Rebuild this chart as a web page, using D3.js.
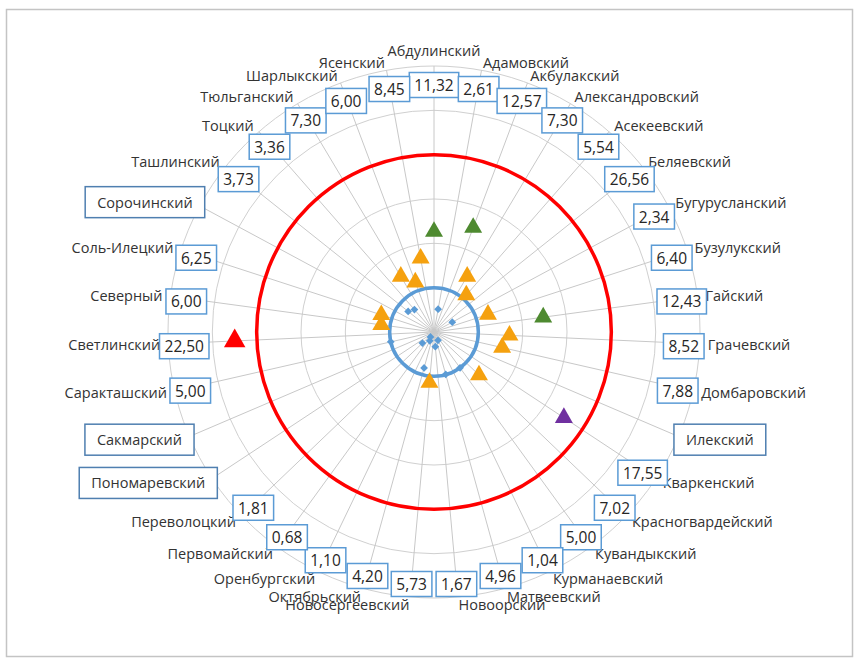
<!DOCTYPE html>
<html><head><meta charset="utf-8">
<script src="https://cdn.jsdelivr.net/npm/d3@7"></script>
<style>
html,body{margin:0;padding:0;background:#fff;}
svg{display:block;}
text{font-family:"Open Sans","Noto Sans",sans-serif;}
</style></head>
<body>
<svg id="chart" width="854" height="658"></svg>
<script>
const categories = ["Абдулинский","Адамовский","Акбулакский","Александровский","Асекеевский","Беляевский","Бугурусланский","Бузулукский","Гайский","Грачевский","Домбаровский","Илекский","Кваркенский","Красногвардейский","Кувандыкский","Курманаевский","Матвеевский","Новоорский","Новосергеевский","Октябрьский","Оренбургский","Первомайский","Переволоцкий","Пономаревский","Сакмарский","Саракташский","Светлинский","Северный","Соль-Илецкий","Сорочинский","Ташлинский","Тоцкий","Тюльганский","Шарлыкский","Ясенский"];
const values = [11.32,2.61,12.57,7.30,5.54,26.56,2.34,6.40,12.43,8.52,7.88,null,17.55,7.02,5.00,1.04,4.96,1.67,5.73,4.20,1.10,0.68,1.81,null,null,5.00,22.50,6.00,6.25,null,3.73,3.36,7.30,6.00,8.45];
const thresholds = [5, 20];
const ringTicks = [5, 10, 15, 20, 25, 30];
const bins = [5, 10, 15, 20];

const svg = d3.select("#chart");
const cx = 434, cy = 332;
const r = d3.scaleLinear().domain([0, 30]).range([0, 266]);
const ang = d3.scaleLinear().domain([0, categories.length]).range([0, 2 * Math.PI]);
const pt = (i, rad) => [cx + rad * Math.sin(ang(i)), cy - rad * Math.cos(ang(i))];

svg.append("rect").attr("x", 6.5).attr("y", 9.5).attr("width", 846).attr("height", 647)
  .attr("fill", "#fff").attr("stroke", "#c4c4c4").attr("stroke-width", 1.5);

const g = svg.append("g");
g.selectAll("circle.ring").data(ringTicks).join("circle")
  .attr("cx", cx).attr("cy", cy).attr("r", d => r(d))
  .attr("fill", "none").attr("stroke", "#d0d0d0").attr("stroke-width", 1);
g.selectAll("line.spoke").data(categories).join("line")
  .attr("x1", cx).attr("y1", cy)
  .attr("x2", (d, i) => pt(i, r(30))[0]).attr("y2", (d, i) => pt(i, r(30))[1])
  .attr("stroke", "#c8c8c8").attr("stroke-width", 1);

const thrColor = ["#5b9bd5", "#ff0000"];
g.selectAll("circle.thr").data(thresholds).join("circle")
  .attr("cx", cx).attr("cy", cy).attr("r", d => r(d))
  .attr("fill", "none").attr("stroke", (d, i) => thrColor[i]).attr("stroke-width", 3.5);

const binColor = ["#5b9bd5", "#f5a10f", "#4e8a30", "#7030a0", "#ff0000"];
const pts = values.map((v, i) => ({v, i})).filter(d => d.v != null);
g.selectAll("path.mark").data(pts).join("path")
  .attr("transform", d => {
    const p = pt(d.i, r(d.v));
    const b = d3.bisectLeft(bins, d.v);
    return `translate(${p[0]},${p[1]})` + (b === 0 ? " rotate(45)" : "");
  })
  .attr("d", d => {
    const b = d3.bisectLeft(bins, d.v);
    if (b === 0) return d3.symbol(d3.symbolSquare, 30)();
    return d3.symbol(d3.symbolTriangle, b === 4 ? 200 : 140)();
  })
  .attr("fill", d => binColor[d3.bisectLeft(bins, d.v)]);

const labR = 274;
const fmt = v => d3.format(".2f")(v).replace(".", ",");
categories.forEach((c, i) => {
  const a = ang(i);
  const [x, y] = pt(i, labR);
  const anchor = i === 0 ? "middle" : (a < Math.PI + 1e-6 ? "start" : "end");
  const t = svg.append("text").attr("x", x).attr("y", i === 0 ? y - 8 : y)
    .attr("text-anchor", anchor).attr("dominant-baseline", "central")
    .attr("font-size", 14.5).attr("fill", "#333").text(c);
  if (values[i] == null) {
    const bb = t.node().getBBox();
    svg.insert("rect", "text").attr("x", bb.x - 12).attr("y", bb.y - 6)
      .attr("width", bb.width + 24).attr("height", bb.height + 12)
      .attr("fill", "#fff").attr("stroke", "#4f7fb0").attr("stroke-width", 1.5);
  }
});

pts.forEach(d => {
  const [x, y] = pt(d.i, 250);
  const gg = svg.append("g").attr("transform", `translate(${x},${y + 3})`);
  const rect = gg.append("rect");
  const t = gg.append("text").attr("text-anchor", "middle").attr("dominant-baseline", "central")
    .attr("font-size", 15.5).attr("fill", "#262626").text(fmt(d.v));
  const w = t.node().getComputedTextLength();
  rect.attr("x", -w / 2 - 5).attr("y", -12.5).attr("width", w + 10).attr("height", 25)
    .attr("fill", "#fff").attr("stroke", "#5b9bd5").attr("stroke-width", 1.5);
});
</script>
</body></html>
